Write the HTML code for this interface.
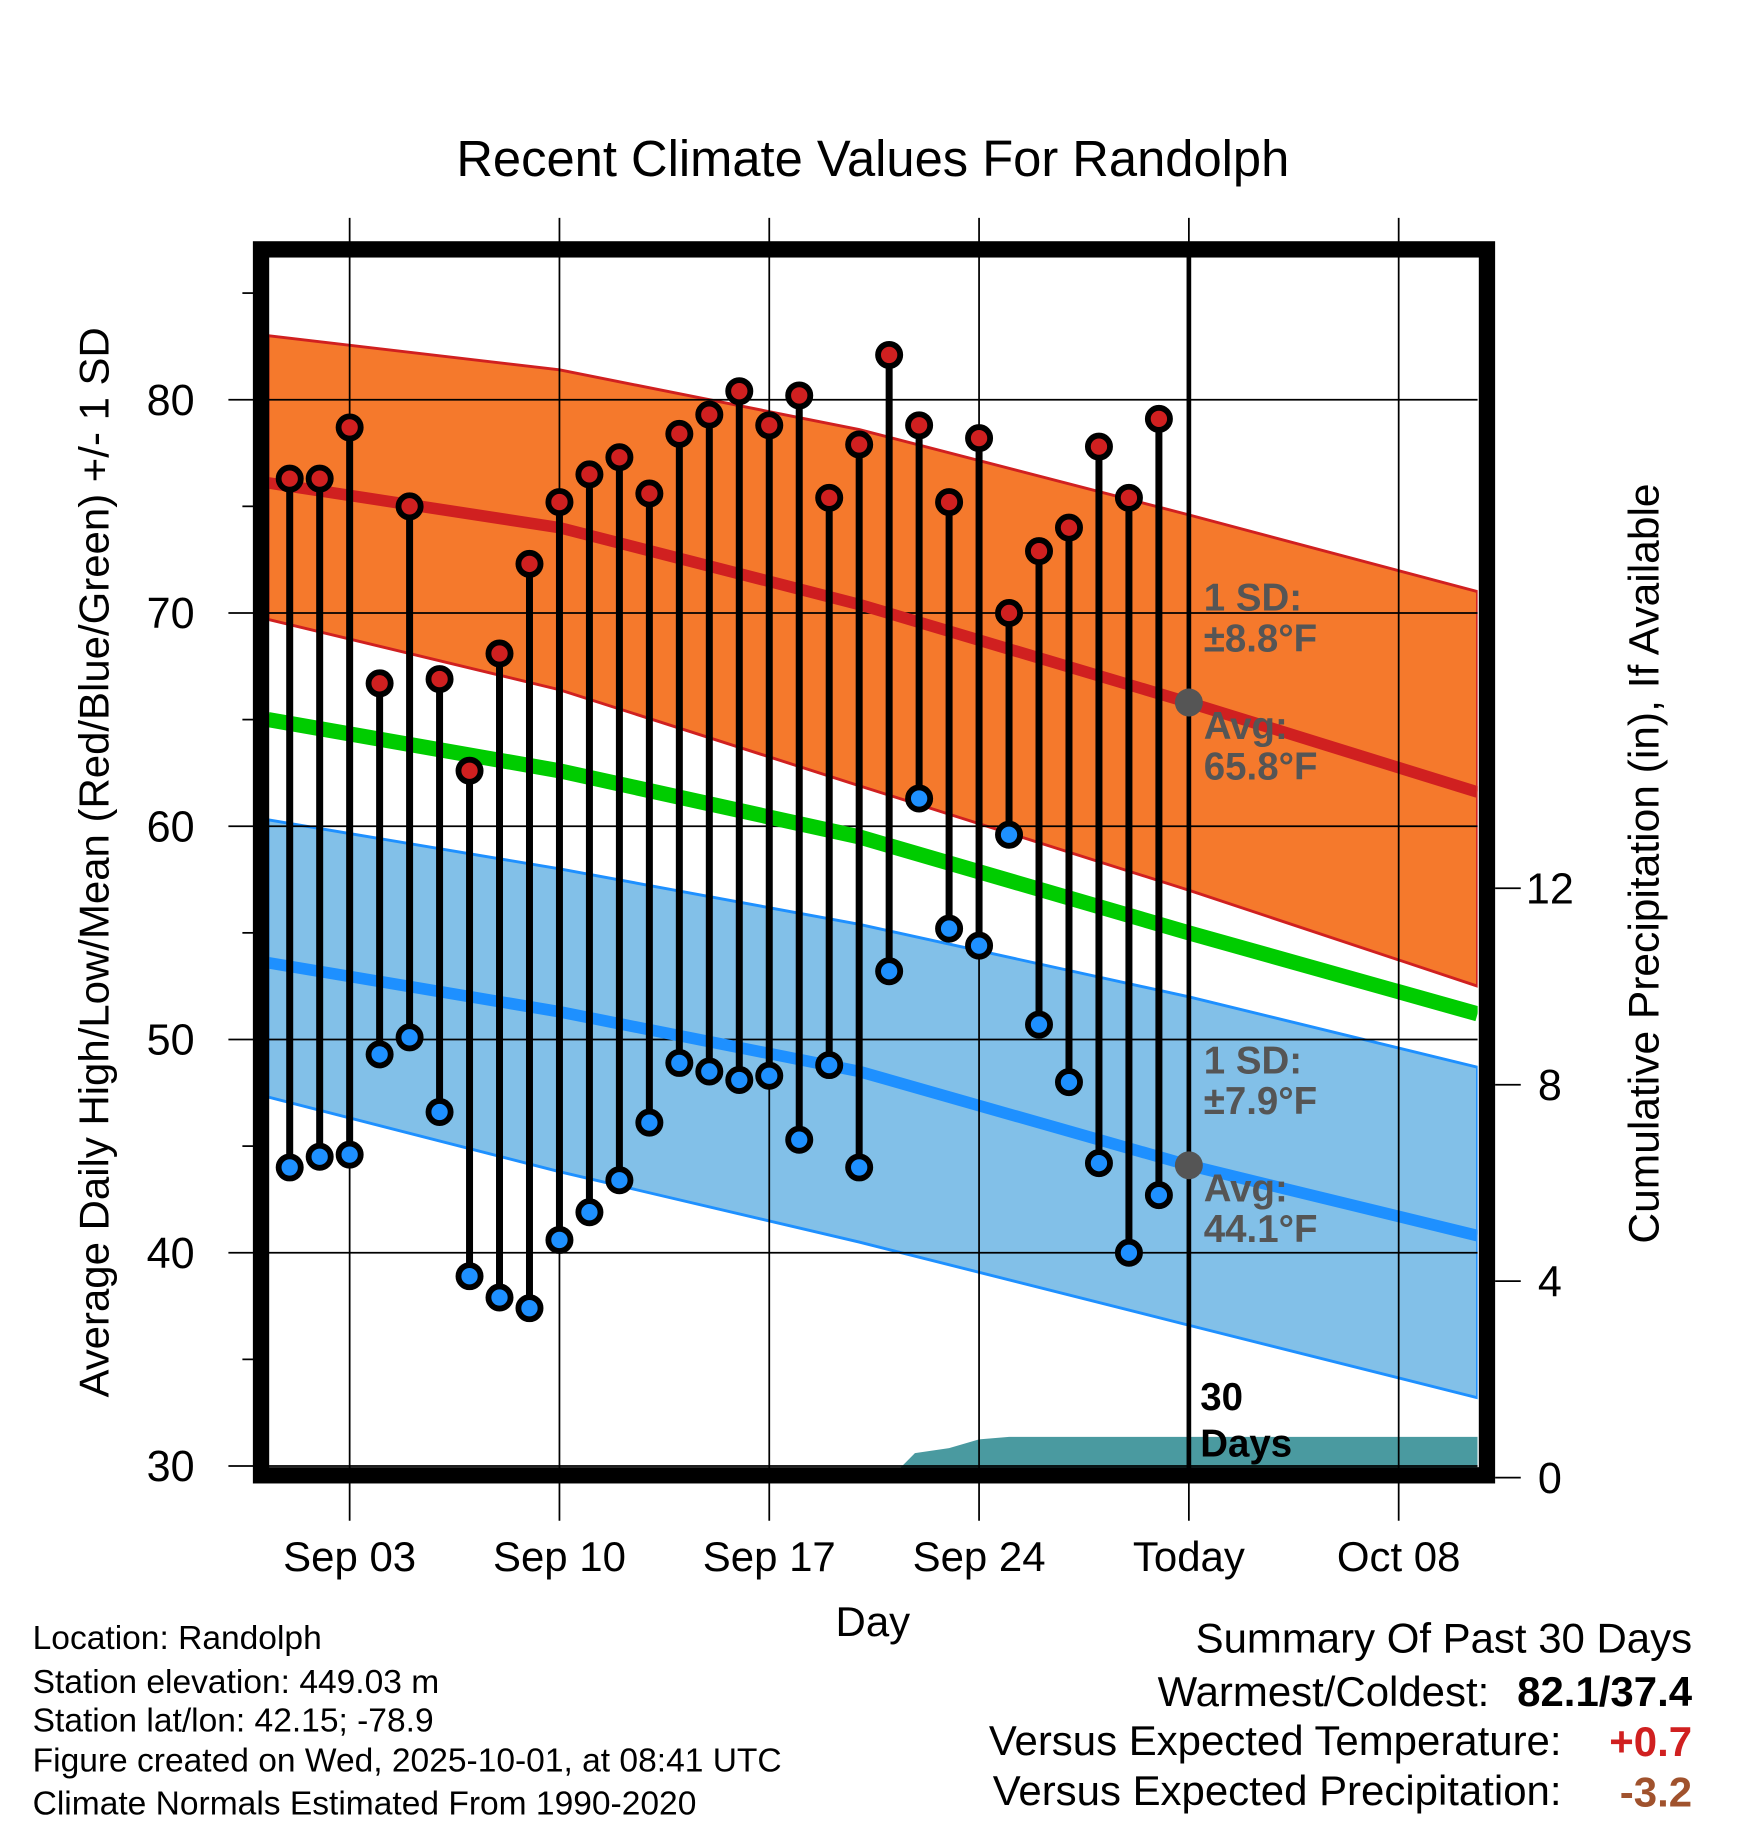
<!DOCTYPE html>
<html><head><meta charset="utf-8"><style>
html,body{margin:0;padding:0;background:#fff;}
svg{display:block;font-family:"Liberation Sans",sans-serif;}
</style></head><body>
<svg id="chart" width="1748" height="1828" viewBox="0 0 1500 1568.65" preserveAspectRatio="none" xmlns="http://www.w3.org/2000/svg">
<text x="749" y="151" font-size="43.5" text-anchor="middle">Recent Climate Values For Randolph</text>
<g id="plot"></g>
<text transform="translate(93,740) rotate(-90)" font-size="36" text-anchor="middle">Average Daily High/Low/Mean (Red/Blue/Green) +/- 1 SD</text>
<text transform="translate(1423,741) rotate(-90)" font-size="36.5" text-anchor="middle">Cumulative Precipitation (in), If Available</text>
<text x="749" y="1404" font-size="36" text-anchor="middle">Day</text>
<g font-size="28.8">
<text x="28" y="1415">Location: Randolph</text>
<text x="28" y="1453">Station elevation: 449.03 m</text>
<text x="28" y="1486">Station lat/lon: 42.15; -78.9</text>
<text x="28" y="1520">Figure created on Wed, 2025-10-01, at 08:41 UTC</text>
<text x="28" y="1557">Climate Normals Estimated From 1990-2020</text>
</g>
<g font-size="36">
<text x="1452" y="1418" text-anchor="end">Summary Of Past 30 Days</text>
<text x="1278" y="1464" text-anchor="end">Warmest/Coldest:</text>
<text x="1452" y="1464" text-anchor="end" font-weight="bold">82.1/37.4</text>
<text x="1340" y="1506" text-anchor="end">Versus Expected Temperature:</text>
<text x="1452" y="1507" text-anchor="end" font-weight="bold" fill="#d02020">+0.7</text>
<text x="1340" y="1549" text-anchor="end">Versus Expected Precipitation:</text>
<text x="1452" y="1550" text-anchor="end" font-weight="bold" fill="#a0522d">-3.2</text>
</g>
</svg>
<script>
const highs=[76.3,76.3,78.7,66.7,75.0,66.9,62.6,68.1,72.3,75.2,76.5,77.3,75.6,78.4,79.3,80.4,78.8,80.2,75.4,77.9,82.1,78.8,75.2,78.2,70.0,72.9,74.0,77.8,75.4,79.1];
const lows=[44.0,44.5,44.6,49.3,50.1,46.6,38.9,37.9,37.4,40.6,41.9,43.4,46.1,48.9,48.5,48.1,48.3,45.3,48.8,44.0,53.2,61.3,55.2,54.4,59.6,50.7,48.0,44.2,40.0,42.7];
const normDays=[-0.72,9,19,30,39.63];
const normHigh=[76.1,74.0,70.4,65.8,61.6];
const normHighUp=[83.0,81.4,78.6,74.6,71.0];
const normHighLo=[69.7,66.4,61.9,57.0,52.5];
const normMean=[65.0,62.6,59.5,55.0,51.2];
const normLow=[53.6,51.3,48.5,44.1,40.8];
const normLowUp=[60.3,58.0,55.4,52.0,48.7];
const normLowLo=[47.3,43.8,40.5,36.6,33.2];
const precipDays=[-0.72,20.05,20.86,22,23,24,39.63];
const precip=[0,0,0.5,0.6,0.78,0.83,0.83];
const yTicks=[30,40,50,60,70,80];
const y2Ticks=[0,4,8,12];
const xTickDays=[2,9,16,23,30,37];
const xTickLabels=["Sep 03","Sep 10","Sep 17","Sep 24","Today","Oct 08"];

const NS="http://www.w3.org/2000/svg";
const X=d=>248.6+d*25.72;
const Y=v=>1258-(v-30)*18.3;
const Y2=v=>1268-v*42.15;
const g=document.getElementById('plot');
function mk(t,a,p){const e=document.createElementNS(NS,t);for(const k in a)e.setAttribute(k,a[k]);(p||g).appendChild(e);return e;}
const L=230,R=1268,T=220,B=1260;
const defs=mk('defs',{});const cp=mk('clipPath',{id:'c'},defs);mk('rect',{x:L,y:T,width:R-L,height:B-T},cp);
const cg=mk('g',{'clip-path':'url(#c)'});
function line(arr){return normDays.map((d,i)=>X(d)+','+Y(arr[i])).join(' ');}
function band(up,lo){return normDays.map((d,i)=>X(d)+','+Y(up[i])).concat(normDays.slice().reverse().map((d,j)=>{const i=normDays.length-1-j;return X(d)+','+Y(lo[i]);})).join(' ');}
let e;
e=mk('polygon',{points:band(normHighUp,normHighLo),fill:'#f5792c',stroke:'#d02020','stroke-width':2.5},cg);

e=mk('polygon',{points:band(normLowUp,normLowLo),fill:'#82c0e8',stroke:'#1e90ff','stroke-width':2.5},cg);

const pp=precipDays.map((d,i)=>X(d)+','+Y2(precip[i])).join(' ')+' '+X(39.63)+','+Y2(0)+' '+X(-0.72)+','+Y2(0);
e=mk('polygon',{points:pp,fill:'#4a9aa0'},cg);

yTicks.forEach(v=>{mk('line',{x1:L,x2:R,y1:Y(v),y2:Y(v),stroke:'#000','stroke-width':1.5},cg);});
xTickDays.forEach(d=>{mk('line',{x1:X(d),x2:X(d),y1:187,y2:1305,stroke:'#000','stroke-width':1.5});});
e=mk('polyline',{points:line(normHigh),fill:'none',stroke:'#d02020','stroke-width':10},cg);

e=mk('polyline',{points:line(normMean),fill:'none',stroke:'#00cc00','stroke-width':13},cg);

e=mk('polyline',{points:line(normLow),fill:'none',stroke:'#1e90ff','stroke-width':10},cg);

e=mk('line',{x1:X(30),x2:X(30),y1:T,y2:B,stroke:'#000','stroke-width':4});

highs.forEach((h,i)=>{const x=X(i);
e=mk('line',{x1:x,x2:x,y1:Y(h),y2:Y(lows[i]),stroke:'#000','stroke-width':6});
});
highs.forEach((h,i)=>{const x=X(i);
e=mk('circle',{cx:x,cy:Y(h),r:9.5,fill:'#d02020',stroke:'#000','stroke-width':5});

e=mk('circle',{cx:x,cy:Y(lows[i]),r:9.5,fill:'#1e90ff',stroke:'#000','stroke-width':5});
});
[[65.8,'1 SD:','±8.8°F','Avg:','65.8°F','high'],[44.1,'1 SD:','±7.9°F','Avg:','44.1°F','low']].forEach((a,k)=>{
 const cy=Y(a[0]);
 e=mk('circle',{cx:X(30),cy:cy,r:12,fill:'#555'});
 
 const ys=k==0?[524,559,634,669]:[921,956,1031,1066];
 [a[1],a[2],a[3],a[4]].forEach((t,j)=>{e=mk('text',{x:1033,y:ys[j],'font-size':33,'font-weight':'bold',fill:'#555'});e.textContent=t;
 });
});
e=mk('text',{x:1030,y:1210,'font-size':33,'font-weight':'bold'});e.textContent='30';

e=mk('text',{x:1030,y:1250,'font-size':33,'font-weight':'bold'});e.textContent='Days';

e=mk('rect',{x:224,y:214,width:1052,height:1052,fill:'none',stroke:'#000','stroke-width':14});

yTicks.forEach(v=>{mk('line',{x1:196,x2:218,y1:Y(v),y2:Y(v),stroke:'#000','stroke-width':1.5});
 e=mk('text',{x:167,y:Y(v)+13,'font-size':37,'text-anchor':'end'});e.textContent=v;
 });
[35,45,55,65,75,85].forEach(v=>{mk('line',{x1:208,x2:218,y1:Y(v),y2:Y(v),stroke:'#000','stroke-width':1.5});});
y2Ticks.forEach(v=>{mk('line',{x1:1283,x2:1305,y1:Y2(v),y2:Y2(v),stroke:'#000','stroke-width':1.5});
 e=mk('text',{x:1330,y:Y2(v)+13,'font-size':37,'text-anchor':'middle'});e.textContent=v;
 });
xTickDays.forEach((d,i)=>{e=mk('text',{x:X(d),y:1348,'font-size':36,'text-anchor':'middle'});e.textContent=xTickLabels[i];
 });
</script>
</body></html>
